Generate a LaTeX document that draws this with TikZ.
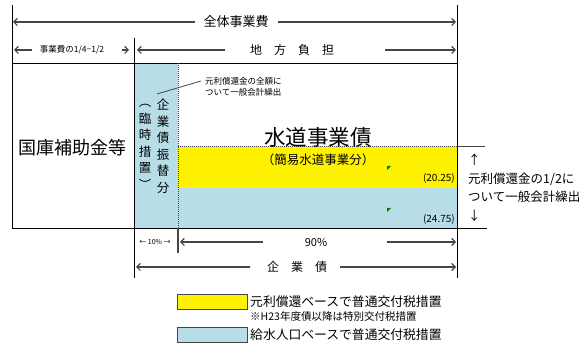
\documentclass[tikz,border=0pt]{standalone}
\usepackage{fontspec}
\setmainfont{Noto Sans CJK JP}
\usetikzlibrary{arrows.meta}
\definecolor{suiBlue}{RGB}{183,222,232}
\definecolor{lineGray}{RGB}{70,70,70}
\definecolor{markGreen}{RGB}{0,128,0}
\newcommand{\fs}[2]{\fontsize{#1}{#2}\selectfont}

\begin{document}
\begin{tikzpicture}[x=1pt,y=-1pt,>={Straight Barb[length=3.5pt,width=7pt]},
  dim/.style={->,draw=lineGray,line width=1.2pt},
  lbl/.style={inner sep=0pt,text=black},
  legbox/.style={draw=lineGray,line width=0.9pt,minimum width=70pt,minimum height=15pt,inner sep=0pt}]
\useasboundingbox (0,0) rectangle (584,344);
\fill[suiBlue] (134,63) rectangle (178,228);
\fill[suiBlue] (178,188) rectangle (457,228);
\fill[yellow] (178,146.5) rectangle (457,188);
\draw[line width=0.8pt] (12,5) -- (12,228) -- (487,228);
\draw[line width=0.8pt] (12,63) -- (457,63);
\draw[line width=0.8pt] (457,5) -- (457,278);
\draw[line width=0.8pt] (134,38) -- (134,278);
\draw[lineGray,line width=0.9pt,dash pattern=on 1pt off 1pt] (178,63) -- (178,228);
\draw[lineGray,line width=0.9pt,dash pattern=on 1pt off 1pt] (178,146.5) -- (457,146.5);
\draw[lineGray,line width=1pt] (457,146.5) -- (485,146.5);
\draw[lineGray,line width=1.2pt] (178,228) -- (178,253);
\fill[markGreen] (387,166) -- ++(4,0) -- ++(-4,4) -- cycle;
\fill[markGreen] (387,208) -- ++(4,0) -- ++(-4,4) -- cycle;

\node[lbl,font=\fs{13}{13}] (zentai) at (236,22) {全体事業費};
\node[lbl,font=\fs{8.5}{8.5}] (jigyohi) at (72,50) {事業費の1/4−1/2};
\node[lbl,font=\fs{12}{12}] (chiho) at (292,50) {地　方　負　担};
\node[lbl,font=\fs{7}{7}] (juppct) at (155,242) {← 10\% →};
\node[lbl,font=\fs{11}{11}] (kyupct) at (316,242) {90\%};
\node[lbl,font=\fs{12}{12}] (kigyosai) at (297,267) {企　業　債};
\path (13,22) coordinate (z0) (195,22) coordinate (z1) (278,22) coordinate (z2) (456,22) coordinate (z3)
      (14,50) coordinate (j0) (32,50) coordinate (j1) (122,50) coordinate (j2) (129,50) coordinate (j3)
      (137,50) coordinate (c0) (225,50) coordinate (c1) (385,50) coordinate (c2) (456,50) coordinate (c3)
      (180,242) coordinate (p0) (263,242) coordinate (p1) (387,242) coordinate (p2) (456,242) coordinate (p3)
      (136,267) coordinate (k0) (250,267) coordinate (k1) (340,267) coordinate (k2) (456,267) coordinate (k3);
\foreach \s/\e in {z1/z0, z2/z3, j1/j0, j2/j3, c1/c0, c2/c3, p1/p0, p2/p3, k1/k0, k2/k3}{%
  \draw[dim] (\s) -- (\e);
}

\node[lbl,font=\fs{18}{18}] (kokko) at (73,148) {国庫補助金等};
\node[lbl,align=center,font=\fs{12.5}{16.5}] (rinji) at (145,147) {︵\\臨\\時\\措\\置\\︶};
\node[lbl,align=center,font=\fs{12.5}{16.5}] (furikae) at (163,146.5) {企\\業\\債\\振\\替\\分};
\node[lbl,align=left,anchor=north west,font=\fs{8.5}{11}] (zengaku) at (205,77) {元利償還金の全額に\\ついて一般会計繰出};
\coordinate (zengakuTip) at (157,94);
\draw[lineGray,line width=0.8pt] ([xshift=-4pt,yshift=-4pt]zengaku.north west) -- (zengakuTip);
\node[lbl,font=\fs{21.5}{21.5}] (suidosai) at (318,137) {水道事業債};
\node[lbl,font=\fs{12.5}{12.5}] (kan-i) at (318,160) {（簡易水道事業分）};
\node[lbl,anchor=east,font=\fs{10}{10}] (yellowAmt) at (455,178) {(20.25)};
\node[lbl,anchor=east,font=\fs{10}{10}] (blueAmt) at (455,219) {(24.75)};
\node[lbl,align=left,anchor=west,font=\fs{12.5}{18.5}] (hanbun) at (468,188) {↑\\元利償還金の1/2に\\ついて一般会計繰出\\↓};

\node[legbox,fill=yellow] (legYellow) at (212,302) {};
\node[lbl,anchor=west,font=\fs{12.8}{12.8}] (legYellowTxt) at (250,302) {元利償還ベースで普通交付税措置};
\node[lbl,anchor=west,font=\fs{10.5}{10.5}] (legNote) at (250,317) {※H23年度債以降は特別交付税措置};
\node[legbox,fill=suiBlue] (legBlue) at (212,335) {};
\node[lbl,anchor=west,font=\fs{12.8}{12.8}] (legBlueTxt) at (250,335) {給水人口ベースで普通交付税措置};
\end{tikzpicture}
\end{document}
